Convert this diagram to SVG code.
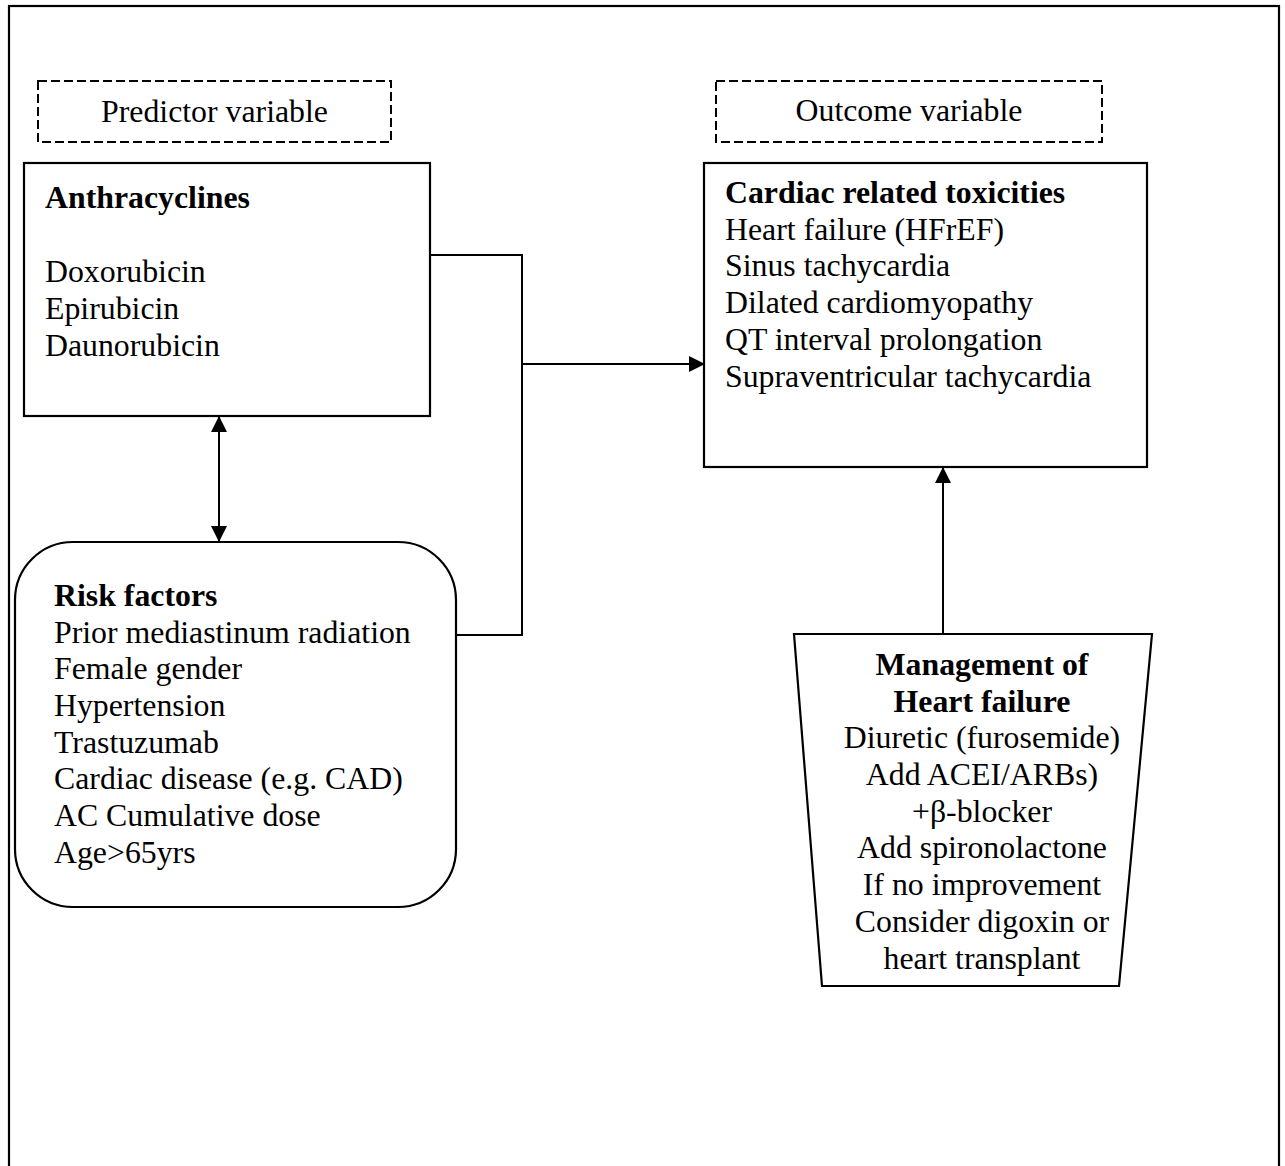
<svg xmlns="http://www.w3.org/2000/svg" width="1285" height="1166" viewBox="0 0 1285 1166">
<defs>
<style>
text{font-family:"Liberation Serif","Times New Roman",serif;font-size:31.8px;fill:#000}
.b{font-weight:bold}
.box{fill:#fff;stroke:#000;stroke-width:2.2}
.dash{fill:none;stroke:#000;stroke-width:2;stroke-dasharray:9 4}
.ln{fill:none;stroke:#000;stroke-width:2}
.c{text-anchor:middle}
</style>
<marker id="ah" viewBox="0 0 16 16" refX="15" refY="8" markerWidth="16" markerHeight="16" markerUnits="userSpaceOnUse" orient="auto-start-reverse">
<path d="M0,0 L16,8 L0,16 Z" fill="#000"/>
</marker>
</defs>
<rect width="1285" height="1166" fill="#fff"/>
<rect x="9" y="6" width="1270" height="1180" fill="none" stroke="#000" stroke-width="2.2"/>

<g id="predictor-label">
<rect class="dash" x="38" y="81" width="353" height="61"/>
<text class="c" x="214.5" y="122">Predictor variable</text>
</g>
<g id="outcome-label">
<rect class="dash" x="716" y="81" width="386" height="61"/>
<text class="c" x="909" y="121">Outcome variable</text>
</g>

<g id="connectors">
<polyline class="ln" points="430,255 522,255 522,635 456,635"/>
<line class="ln" x1="522" y1="364" x2="704" y2="364" marker-end="url(#ah)"/>
<line class="ln" x1="219" y1="417" x2="219" y2="541" marker-start="url(#ah)" marker-end="url(#ah)"/>
<line class="ln" x1="943" y1="634" x2="943" y2="468" marker-end="url(#ah)"/>
</g>

<g id="anthracyclines">
<rect class="box" x="24" y="163" width="406" height="253"/>
<text class="b" x="45" y="208">Anthracyclines</text>
<text x="45" y="282">Doxorubicin</text>
<text x="45" y="319">Epirubicin</text>
<text x="45" y="356">Daunorubicin</text>
</g>

<g id="cardiac">
<rect class="box" x="704" y="163" width="443" height="304"/>
<text class="b" x="725" y="203">Cardiac related toxicities</text>
<text x="725" y="240">Heart failure (HFrEF)</text>
<text x="725" y="276">Sinus tachycardia</text>
<text x="725" y="313">Dilated cardiomyopathy</text>
<text x="725" y="350">QT interval prolongation</text>
<text x="725" y="387">Supraventricular tachycardia</text>
</g>

<g id="risk-factors">
<rect class="box" x="15" y="542" width="441" height="365" rx="58" ry="58"/>
<text class="b" x="54" y="606">Risk factors</text>
<text x="54" y="643">Prior mediastinum radiation</text>
<text x="54" y="679">Female gender</text>
<text x="54" y="716">Hypertension</text>
<text x="54" y="753">Trastuzumab</text>
<text x="54" y="789">Cardiac disease (e.g. CAD)</text>
<text x="54" y="826">AC Cumulative dose</text>
<text x="54" y="863">Age&gt;65yrs</text>
</g>

<g id="management">
<polygon class="box" points="794,634 1152,634 1119,986 822,986"/>
<text class="b c" x="982" y="675">Management of</text>
<text class="b c" x="982" y="712">Heart failure</text>
<text class="c" x="982" y="748">Diuretic (furosemide)</text>
<text class="c" x="982" y="785">Add ACEI/ARBs)</text>
<text class="c" x="982" y="822">+β-blocker</text>
<text class="c" x="982" y="858">Add spironolactone</text>
<text class="c" x="982" y="895">If no improvement</text>
<text class="c" x="982" y="932">Consider digoxin or</text>
<text class="c" x="982" y="969">heart transplant</text>
</g>
</svg>
